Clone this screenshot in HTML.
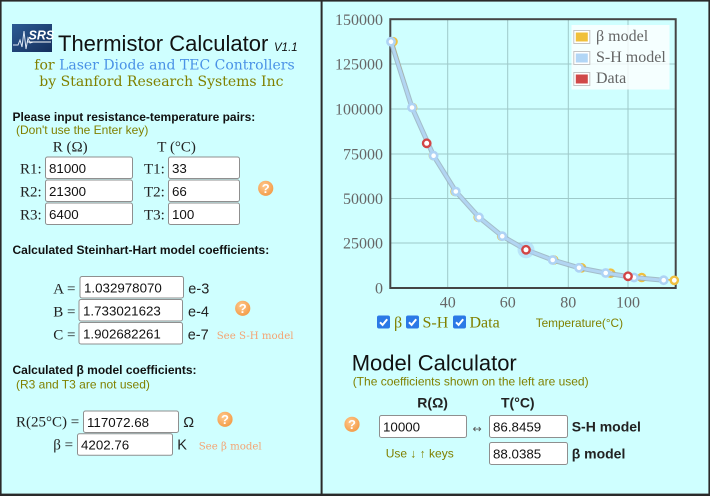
<!DOCTYPE html>
<html><head><meta charset="utf-8"><style>
html,body{margin:0;padding:0;background:#cfffff;}
svg{display:block;}
.sans{font-family:"Liberation Sans",Arial,sans-serif;}
.serif{font-family:"Liberation Serif","Times New Roman",serif;}
.dserif{font-family:"DejaVu Serif",serif;}
</style></head><body>
<svg width="710" height="496" viewBox="0 0 710 496" xmlns="http://www.w3.org/2000/svg">
<defs>
<radialGradient id="qg" cx="40%" cy="35%" r="70%"><stop offset="0" stop-color="#ffc98e"/><stop offset="1" stop-color="#f39a45"/></radialGradient>
<linearGradient id="lg" x1="0" y1="0" x2="1" y2="1"><stop offset="0" stop-color="#2c5a94"/><stop offset="1" stop-color="#152f5c"/></linearGradient>
<g id="q"><circle r="7.6" fill="url(#qg)"/><text x="0" y="4.6" text-anchor="middle" class="sans" font-weight="bold" font-size="13" fill="#fff">?</text></g>
<g id="cb"><rect width="13" height="13" rx="2" fill="#2b79e6"/><polyline points="3,6.8 5.6,9.4 10.2,3.8" fill="none" stroke="#fff" stroke-width="2"/></g>
</defs>
<rect width="710" height="496" fill="#cfffff"/>
<!-- borders -->
<rect x="0" y="0" width="710" height="1.6" fill="#2a2a2a"/>
<rect x="0" y="0" width="1.6" height="496" fill="#2a2a2a"/>
<rect x="708.4" y="0" width="1.6" height="496" fill="#2a2a2a"/>
<rect x="0" y="493.6" width="710" height="2.4" fill="#2a2a2a"/>
<rect x="320.6" y="0" width="2" height="496" fill="#2a2a2a"/>

<!-- logo -->
<rect x="12" y="24" width="40" height="28" fill="url(#lg)"/>
<polyline points="13,45 18,45 20,40 22,47 24,31 26,49 28,38 30,43 33,42" fill="none" stroke="#dfe8f5" stroke-width="1"/>
<text x="28.5" y="39.5" class="sans" font-weight="bold" font-style="italic" font-size="12.5" fill="#fff">SRS</text>
<rect x="27" y="41.5" width="24" height="1" fill="#fff"/>

<g class="sans" fill="#111">
<text x="58" y="51" font-size="22">Thermistor Calculator</text>
<text x="274" y="51" font-size="11.5" font-style="italic">V1.1</text>
</g>
<text x="34.3" y="69.3" class="dserif" font-size="14" fill="#808000">for <tspan fill="#4a92e6">Laser Diode and TEC Controllers</tspan></text>
<text x="39.3" y="86" class="dserif" font-size="14" fill="#808000">by Stanford Research Systems Inc</text>

<text x="12.5" y="121" class="sans" font-weight="bold" font-size="12" fill="#111">Please input resistance-temperature pairs:</text>
<text x="16" y="134" class="sans" font-size="12" fill="#808000">(Don't use the Enter key)</text>

<g class="serif" font-size="15" fill="#222">
<text x="52.7" y="151.5">R (Ω)</text>
<text x="157.3" y="151.5">T (°C)</text>
<text x="20" y="173.3">R1:</text>
<text x="20" y="196.3">R2:</text>
<text x="20" y="219.3">R3:</text>
<text x="144" y="173.3">T1:</text>
<text x="144" y="196.3">T2:</text>
<text x="144" y="219.3">T3:</text>
</g>
<g fill="#fff" stroke="#8f8f8f" stroke-width="1">
<rect x="45.5" y="157" width="87" height="21.5" rx="2"/>
<rect x="45.5" y="180" width="87" height="21.5" rx="2"/>
<rect x="45.5" y="203" width="87" height="21.5" rx="2"/>
<rect x="168.5" y="157" width="71" height="21.5" rx="2"/>
<rect x="168.5" y="180" width="71" height="21.5" rx="2"/>
<rect x="168.5" y="203" width="71" height="21.5" rx="2"/>
<rect x="80" y="276.5" width="103.5" height="21.5" rx="2"/>
<rect x="79" y="299.5" width="103.5" height="21.5" rx="2"/>
<rect x="79" y="322.5" width="103.5" height="21.5" rx="2"/>
<rect x="83.5" y="411" width="95" height="21.5" rx="2"/>
<rect x="77.5" y="433.8" width="95" height="21.5" rx="2"/>
<rect x="379.5" y="415.5" width="87" height="22" rx="2"/>
<rect x="489.5" y="415.5" width="78" height="22" rx="2"/>
<rect x="489.5" y="442.5" width="78" height="22" rx="2"/>
</g>
<g class="sans" font-size="13.33" fill="#111">
<text x="49" y="172.8">81000</text>
<text x="49" y="195.8">21300</text>
<text x="49" y="218.8">6400</text>
<text x="172" y="172.8">33</text>
<text x="172" y="195.8">66</text>
<text x="172" y="218.8">100</text>
<text x="84" y="292.5">1.032978070</text>
<text x="83" y="315.5">1.733021623</text>
<text x="83" y="338.5">1.902682261</text>
<text x="87" y="426.8">117072.68</text>
<text x="81" y="449.5">4202.76</text>
<text x="383" y="431.5">10000</text>
<text x="493" y="431.5">86.8459</text>
<text x="493" y="458.5">88.0385</text>
</g>
<use href="#q" x="265.7" y="188.3"/>
<use href="#q" x="242.7" y="308.3"/>
<use href="#q" x="225" y="419.3"/>
<use href="#q" x="352" y="424.3"/>

<text x="12.5" y="254" class="sans" font-weight="bold" font-size="12" fill="#111">Calculated Steinhart-Hart model coefficients:</text>
<g class="serif" font-size="15" fill="#222">
<text x="53.3" y="293.3">A =</text>
<text x="53.3" y="316.3">B =</text>
<text x="53.3" y="339.3">C =</text>
<text x="16" y="426.7">R(25°C) =</text>
<text x="53.3" y="449.5">β =</text>
</g>
<g class="sans" font-size="14.5" fill="#222">
<text x="188.3" y="293.3">e-3</text>
<text x="188" y="316.3">e-4</text>
<text x="187.7" y="339.3">e-7</text>
<text x="183.3" y="427">Ω</text>
<text x="177.3" y="449.5">K</text>
</g>
<text x="216.7" y="339" class="dserif" font-size="10.2" fill="#f4a474">See S-H model</text>
<text x="198.7" y="449.3" class="dserif" font-size="10.2" fill="#f4a474">See β model</text>
<text x="12.5" y="374" class="sans" font-weight="bold" font-size="12" fill="#111">Calculated β model coefficients:</text>
<text x="16" y="388.3" class="sans" font-size="12" fill="#808000">(R3 and T3 are not used)</text>

<!-- right panel bottom -->
<text x="351.7" y="370.7" class="sans" font-size="22" fill="#111">Model Calculator</text>
<text x="352.7" y="385.3" class="sans" font-size="12" fill="#808000">(The coefficients shown on the left are used)</text>
<g class="sans" font-weight="bold" font-size="14" fill="#222">
<text x="417.3" y="407.3">R(Ω)</text>
<text x="501" y="407.3">T(°C)</text>
<text x="571.7" y="431.7">S-H model</text>
<text x="571.7" y="458.3">β model</text>
</g>
<text x="472.5" y="432.5" font-family="'DejaVu Sans',sans-serif" font-size="11" fill="#555">↔</text>
<text x="385.7" y="457.7" class="sans" font-size="12" fill="#808000">Use ↓ ↑ keys</text>

<!-- chart grid -->
<g stroke="#9ec9c9" stroke-width="1">
<line x1="390" y1="64" x2="676" y2="64"/>
<line x1="390" y1="109" x2="676" y2="109"/>
<line x1="390" y1="154" x2="676" y2="154"/>
<line x1="390" y1="198.5" x2="676" y2="198.5"/>
<line x1="390" y1="243" x2="676" y2="243"/>
<line x1="447.7" y1="19" x2="447.7" y2="288"/>
<line x1="507.7" y1="19" x2="507.7" y2="288"/>
<line x1="568.3" y1="19" x2="568.3" y2="288"/>
<line x1="628" y1="19" x2="628" y2="288"/>
</g>
<rect x="390.3" y="19.2" width="285.4" height="268.8" fill="none" stroke="#454545" stroke-width="2"/>

<g class="serif" font-size="16" fill="#666">
<g text-anchor="end">
<text x="383" y="24.8">150000</text>
<text x="383" y="69.5">125000</text>
<text x="383" y="114.5">100000</text>
<text x="383" y="159.5">75000</text>
<text x="383" y="204">50000</text>
<text x="383" y="248.5">25000</text>
<text x="383" y="293.3">0</text>
</g>
<g text-anchor="middle">
<text x="447.7" y="307.5">40</text>
<text x="507.7" y="307.5">60</text>
<text x="568.3" y="307.5">80</text>
<text x="628" y="307.5">100</text>
</g>
</g>

<!-- beta series -->
<polyline points="393,41.7 412.6,107.5 433.4,155.7 455.1,191.5 478.2,217.3 501.7,236.2 526,249.8 553.8,260 581.5,267.8 610.6,273.2 641.7,277.5 674.3,280.3" fill="none" stroke="#ecb933" stroke-width="1.6"/>
<g fill="#fff" stroke="#f0c040" stroke-width="2.4">
<circle cx="393" cy="41.7" r="3.6"/><circle cx="412.6" cy="107.5" r="3.6"/><circle cx="433.4" cy="155.7" r="3.6"/><circle cx="455.1" cy="191.5" r="3.6"/><circle cx="478.2" cy="217.3" r="3.6"/><circle cx="501.7" cy="236.2" r="3.6"/><circle cx="553.8" cy="260" r="3.6"/><circle cx="581.5" cy="267.8" r="3.6"/><circle cx="610.6" cy="273.2" r="3.6"/><circle cx="641.7" cy="277.5" r="3.6"/><circle cx="674.3" cy="280.3" r="3.6"/>
</g>
<!-- S-H series -->
<polyline points="391,41.7 412,107.5 433.6,155.7 455.8,191.5 479,217.3 502.3,236.2 526,249.8 552.7,260 579,267.8 605.7,273 634,277.5 663.7,280.2" fill="none" stroke="#97adbd" stroke-width="5" stroke-opacity="0.8"/>
<polyline points="391,41.7 412,107.5 433.6,155.7 455.8,191.5 479,217.3 502.3,236.2 526,249.8 552.7,260 579,267.8 605.7,273 634,277.5 663.7,280.2" fill="none" stroke="#b2d5f2" stroke-width="3"/>
<circle cx="526" cy="249.8" r="8.5" fill="#a8d0f4" fill-opacity="0.55"/>
<g fill="#fff" stroke="#aed3f5" stroke-width="2.6">
<circle cx="391" cy="41.7" r="3.6"/><circle cx="412" cy="107.5" r="3.6"/><circle cx="433.6" cy="155.7" r="3.6"/><circle cx="455.8" cy="191.5" r="3.6"/><circle cx="479" cy="217.3" r="3.6"/><circle cx="502.3" cy="236.2" r="3.6"/><circle cx="552.7" cy="260" r="3.6"/><circle cx="579" cy="267.8" r="3.6"/><circle cx="605.7" cy="273" r="3.6"/><circle cx="634" cy="277.5" r="3.6"/><circle cx="663.7" cy="280.2" r="3.6"/>
</g>
<!-- data -->
<g fill="#fff" stroke="#d24545" stroke-width="2.4">
<circle cx="426.7" cy="143.3" r="3.7"/><circle cx="526" cy="249.8" r="3.7"/><circle cx="628" cy="276.3" r="3.7"/>
</g>

<!-- legend -->
<rect x="571.5" y="25" width="98" height="64.5" fill="#ffffff" fill-opacity="0.78"/>
<g stroke="#c4c4c4" stroke-width="1" fill="#fff">
<rect x="573.8" y="30.5" width="16" height="13"/>
<rect x="573.8" y="51.5" width="16" height="13"/>
<rect x="573.8" y="72.5" width="16" height="13"/>
</g>
<rect x="575.8" y="32.5" width="12" height="9" fill="#f0c03c"/>
<rect x="575.8" y="53.5" width="12" height="9" fill="#b2d6f6"/>
<rect x="575.8" y="74.5" width="12" height="9" fill="#d04848"/>
<g class="serif" font-size="16" fill="#666">
<text x="596" y="41">β model</text>
<text x="596" y="62.2">S-H model</text>
<text x="596" y="83.2">Data</text>
</g>

<!-- checkboxes -->
<use href="#cb" x="377" y="315.5"/>
<use href="#cb" x="406" y="315.5"/>
<use href="#cb" x="453" y="315.5"/>
<g class="serif" font-size="16" fill="#808000">
<text x="394" y="327.3">β</text>
<text x="422.5" y="327.3">S-H</text>
<text x="469.5" y="327.3">Data</text>
</g>
<text x="535.7" y="327" class="sans" font-size="11.8" fill="#808000">Temperature(°C)</text>
</svg>
</body></html>
